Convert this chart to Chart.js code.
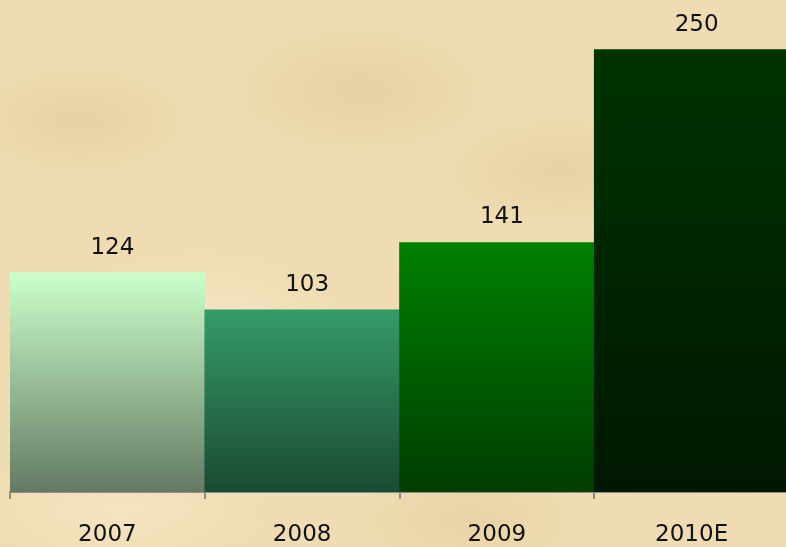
<!DOCTYPE html>
<html>
<head>
<meta charset="utf-8">
<script src="https://cdn.jsdelivr.net/npm/chart.js@4/dist/chart.umd.min.js"></script>
<style>
  html, body { margin: 0; padding: 0; }
  body {
    width: 786px; height: 547px; overflow: hidden;
    background-color: #efdcb2;
    background-image:
      radial-gradient(ellipse 120px 60px at 80px 120px, rgba(214,184,130,0.3), transparent),
      radial-gradient(ellipse 140px 70px at 360px 90px, rgba(205,175,120,0.25), transparent),
      radial-gradient(ellipse 130px 60px at 560px 170px, rgba(210,180,125,0.25), transparent),
      radial-gradient(ellipse 150px 80px at 200px 330px, rgba(250,238,210,0.5), transparent),
      radial-gradient(ellipse 160px 70px at 660px 440px, rgba(212,182,128,0.25), transparent),
      radial-gradient(ellipse 150px 60px at 120px 510px, rgba(250,236,205,0.5), transparent),
      radial-gradient(ellipse 120px 60px at 470px 520px, rgba(215,186,130,0.25), transparent);
  }
  #wrap { position: relative; width: 789px; height: 547px; }
</style>
</head>
<body>
<div id="wrap"><canvas id="barChart"></canvas></div>
<script>
const categories = ['2007', '2008', '2009', '2010E'];
const values = [124, 103, 141, 250];
const topColors = ['#ccffcc', '#359b69', '#008000', '#003300'];
const bottomColors = ['#637a63', '#1a4a33', '#003d00', '#001800'];

// draws the value above each bar
const valueLabels = {
  id: 'valueLabels',
  afterDatasetsDraw(chart) {
    const ctx = chart.ctx;
    const meta = chart.getDatasetMeta(0);
    ctx.save();
    ctx.font = '23px "DejaVu Sans", Verdana, sans-serif';
    ctx.fillStyle = '#111111';
    ctx.textAlign = 'center';
    ctx.textBaseline = 'middle';
    meta.data.forEach((bar, i) => {
      ctx.fillText(String(values[i]), bar.x + 5, bar.y - 25);
    });
    ctx.restore();
  }
};

function barGradient(context) {
  const chart = context.chart;
  const i = context.dataIndex;
  if (!chart.chartArea || i === undefined) return topColors[i || 0];
  const y = chart.scales.y;
  const top = y.getPixelForValue(values[i]);
  const bottom = y.getPixelForValue(0);
  const g = chart.ctx.createLinearGradient(0, top, 0, bottom);
  g.addColorStop(0, topColors[i]);
  g.addColorStop(1, bottomColors[i]);
  return g;
}

new Chart(document.getElementById('barChart'), {
  type: 'bar',
  data: {
    labels: categories,
    datasets: [{
      data: values,
      backgroundColor: barGradient,
      borderWidth: 0,
      barPercentage: 1,
      categoryPercentage: 1
    }]
  },
  options: {
    responsive: true,
    maintainAspectRatio: false,
    animation: false,
    layout: { padding: { left: 10, right: 0, top: 0, bottom: 0 } },
    plugins: {
      legend: { display: false },
      tooltip: { enabled: false }
    },
    scales: {
      x: {
        afterFit(scale) { scale.height = 55; },
        grid: {
          display: true,
          drawOnChartArea: false,
          drawTicks: true,
          tickLength: 7,
          color: '#8c8c8c',
          lineWidth: 2,
          offset: true
        },
        border: { display: true, color: '#8c8c8c', width: 2 },
        ticks: {
          color: '#111111',
          padding: 22,
          font: { family: '"DejaVu Sans", Verdana, sans-serif', size: 23 }
        }
      },
      y: {
        display: false,
        min: 0,
        max: 278
      }
    }
  },
  plugins: [valueLabels]
});
</script>
</body>
</html>
